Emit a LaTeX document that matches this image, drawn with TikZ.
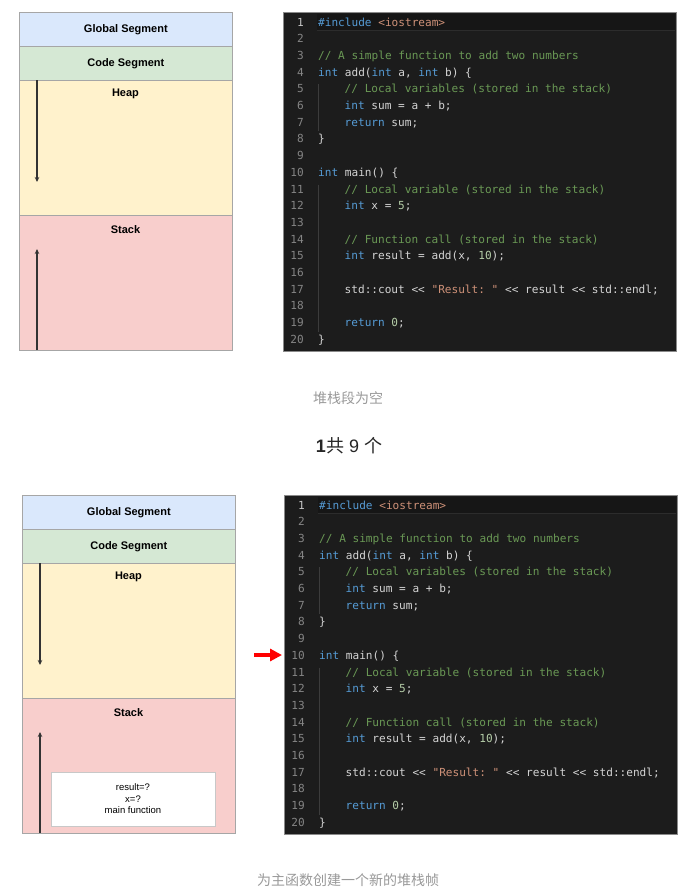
\documentclass[tikz,border=0pt]{standalone}
\usepackage{fontspec}
\setmainfont{Liberation Sans}
\setmonofont{DejaVu Sans Mono}
\newfontfamily\cjk{Noto Sans CJK SC}
\usetikzlibrary{arrows.meta}
\definecolor{globalc}{HTML}{DAE8FC}
\definecolor{codec}{HTML}{D5E8D4}
\definecolor{heapc}{HTML}{FFF2CC}
\definecolor{stackc}{HTML}{F8CECC}
\definecolor{segborder}{HTML}{A6A6A6}
\definecolor{arrowc}{HTML}{333333}
\definecolor{panelbg}{HTML}{1C1C1C}
\definecolor{panelline}{HTML}{8A8A8A}
\definecolor{hlbg}{HTML}{161616}
\definecolor{hlline}{HTML}{2C2C2C}
\definecolor{guidec}{HTML}{3C3C3C}
\definecolor{lnc}{HTML}{858585}
\definecolor{lncur}{HTML}{C6C6C6}
\definecolor{txt}{HTML}{D4D4D4}
\definecolor{kwc}{HTML}{569CD6}
\definecolor{cmc}{HTML}{6A9955}
\definecolor{stc}{HTML}{CE9178}
\definecolor{nmc}{HTML}{B5CEA8}
\definecolor{capc}{HTML}{999999}
\definecolor{framec}{HTML}{C8C8C8}
\newcommand\ckw[1]{\textcolor{kwc}{#1}}
\newcommand\ccm[1]{\textcolor{cmc}{#1}}
\newcommand\cst[1]{\textcolor{stc}{#1}}
\newcommand\cnm[1]{\textcolor{nmc}{#1}}
\tikzset{
  x=1pt, y=-1pt,
  seg/.style={draw=segborder, line width=0.7pt, anchor=north west,
    minimum width=213pt, inner sep=0pt,
    font=\fontsize{11}{13}\selectfont\bfseries},
  seglabel/.style={inner sep=0pt, font=\fontsize{11}{13}\selectfont\bfseries},
  growarrow/.style={draw=arrowc, line width=1.1pt, -{Stealth[length=5pt,width=4.5pt]}},
  framebox/.style={draw=framec, fill=white, line width=0.6pt, minimum width=164pt,
    minimum height=54pt, inner sep=0pt, align=center,
    font=\fontsize{9.5}{11.5}\selectfont},
  panel/.style={fill=panelbg, draw=panelline, line width=0.6pt, anchor=north west, inner sep=0pt},
  lnum/.style={anchor=base east, inner sep=0pt, font=\fontsize{11.1}{13}\ttfamily, text=lnc},
  codeline/.style={anchor=base west, inner sep=0pt, font=\fontsize{11.1}{13}\ttfamily, text=txt},
  guide/.style={draw=guidec, line width=0.6pt},
  caption/.style={inner sep=0pt, text=capc, font=\fontsize{14}{16}\selectfont\cjk},
  redarrow/.style={draw=red, line width=4pt, -{Triangle[length=12pt,width=12pt]}},
}
% memory layout diagram
\newcommand\memdiagram[3]{%
  \begin{scope}[shift={(#2,#3)}]
    \node[seg, fill=globalc, minimum height=34pt] (#1-global) at (0,0) {};
    \node[seg, fill=codec, minimum height=34pt] (#1-code) at (0,34) {};
    \node[seg, fill=heapc, minimum height=135pt] (#1-heap) at (0,68) {};
    \node[seg, fill=stackc, minimum height=135pt] (#1-stack) at (0,203) {};
    \node[seglabel] (#1-globaltxt) at (#1-global.center) {Global Segment};
    \node[seglabel] (#1-codetxt) at (#1-code.center) {Code Segment};
    \node[seglabel] (#1-heaptxt) at (106.5,81.5) {Heap};
    \node[seglabel] (#1-stacktxt) at (106.5,217.5) {Stack};
    \coordinate (#1-ha) at (18,68);
    \coordinate (#1-hb) at (18,170);
    \coordinate (#1-sa) at (18,338);
    \coordinate (#1-sb) at (18,237);
    \draw[growarrow] (#1-ha) -- (#1-hb);
    \draw[growarrow] (#1-sa) -- (#1-sb);
  \end{scope}}
% code panel
\newcommand\codepanel[3]{%
  \begin{scope}[shift={(#2,#3)}]
    \node[panel, minimum width=393pt, minimum height=339pt] (#1-panel) at (0,0) {};
    \fill[hlbg] (34,2) rectangle (392,18);
    \draw[hlline, line width=0.5pt] (34,18) -- (392,18);
    \draw[guide] (35.5,{14+3.5*16.7}) -- (35.5,{14+6.3*16.7});
    \draw[guide] (35.5,{14+9.5*16.7}) -- (35.5,{14+18.3*16.7});
    \node[lnum, text=lncur] (#1-n1) at (21,14) {1};
    \foreach \i in {2,...,20} {
      \node[lnum] (#1-n\i) at (21,{14+(\i-1)*16.7}) {\i};
    }
    \node[codeline] (#1-c1) at (35,{14+0*16.7}) {\ckw{\#include} \cst{<iostream>}};
    \node[codeline] (#1-c3) at (35,{14+2*16.7}) {\ccm{// A simple function to add two numbers}};
    \node[codeline] (#1-c4) at (35,{14+3*16.7}) {\ckw{int} add(\ckw{int} a, \ckw{int} b) \{};
    \node[codeline] (#1-c5) at (61.5,{14+4*16.7}) {\ccm{// Local variables (stored in the stack)}};
    \node[codeline] (#1-c6) at (61.5,{14+5*16.7}) {\ckw{int} sum = a + b;};
    \node[codeline] (#1-c7) at (61.5,{14+6*16.7}) {\ckw{return} sum;};
    \node[codeline] (#1-c8) at (35,{14+7*16.7}) {\}};
    \node[codeline] (#1-c10) at (35,{14+9*16.7}) {\ckw{int} main() \{};
    \node[codeline] (#1-c11) at (61.5,{14+10*16.7}) {\ccm{// Local variable (stored in the stack)}};
    \node[codeline] (#1-c12) at (61.5,{14+11*16.7}) {\ckw{int} x = \cnm{5};};
    \node[codeline] (#1-c14) at (61.5,{14+13*16.7}) {\ccm{// Function call (stored in the stack)}};
    \node[codeline] (#1-c15) at (61.5,{14+14*16.7}) {\ckw{int} result = add(x, \cnm{10});};
    \node[codeline] (#1-c17) at (61.5,{14+16*16.7}) {std::cout << \cst{"Result: "} << result << std::endl;};
    \node[codeline] (#1-c19) at (61.5,{14+18*16.7}) {\ckw{return} \cnm{0};};
    \node[codeline] (#1-c20) at (35,{14+19*16.7}) {\}};
  \end{scope}}
\begin{document}
\begin{tikzpicture}
  \useasboundingbox[fill=white] (0,0) rectangle (690,889);
  % first state
  \memdiagram{a}{19}{12}
  \codepanel{a}{283}{12}
  \node[caption] (cap1) at (348,398) {堆栈段为空};
  \node[inner sep=0pt, text=black!85, font=\fontsize{18}{20}\selectfont] (count) at (349,446)
    {\textbf{1}{\cjk 共} 9 {\cjk 个}};
  % second state
  \memdiagram{b}{22}{495}
  \codepanel{b}{284}{495}
  \node[framebox] (b-frame) at (133,799) {result=?\\x=?\\main function};
  \coordinate (ra) at (254,655);
  \draw[redarrow, shorten >=2pt] (ra) -- (ra -| b-panel.west);
  \node[caption] (cap2) at (348,880) {为主函数创建一个新的堆栈帧};
\end{tikzpicture}
\end{document}
